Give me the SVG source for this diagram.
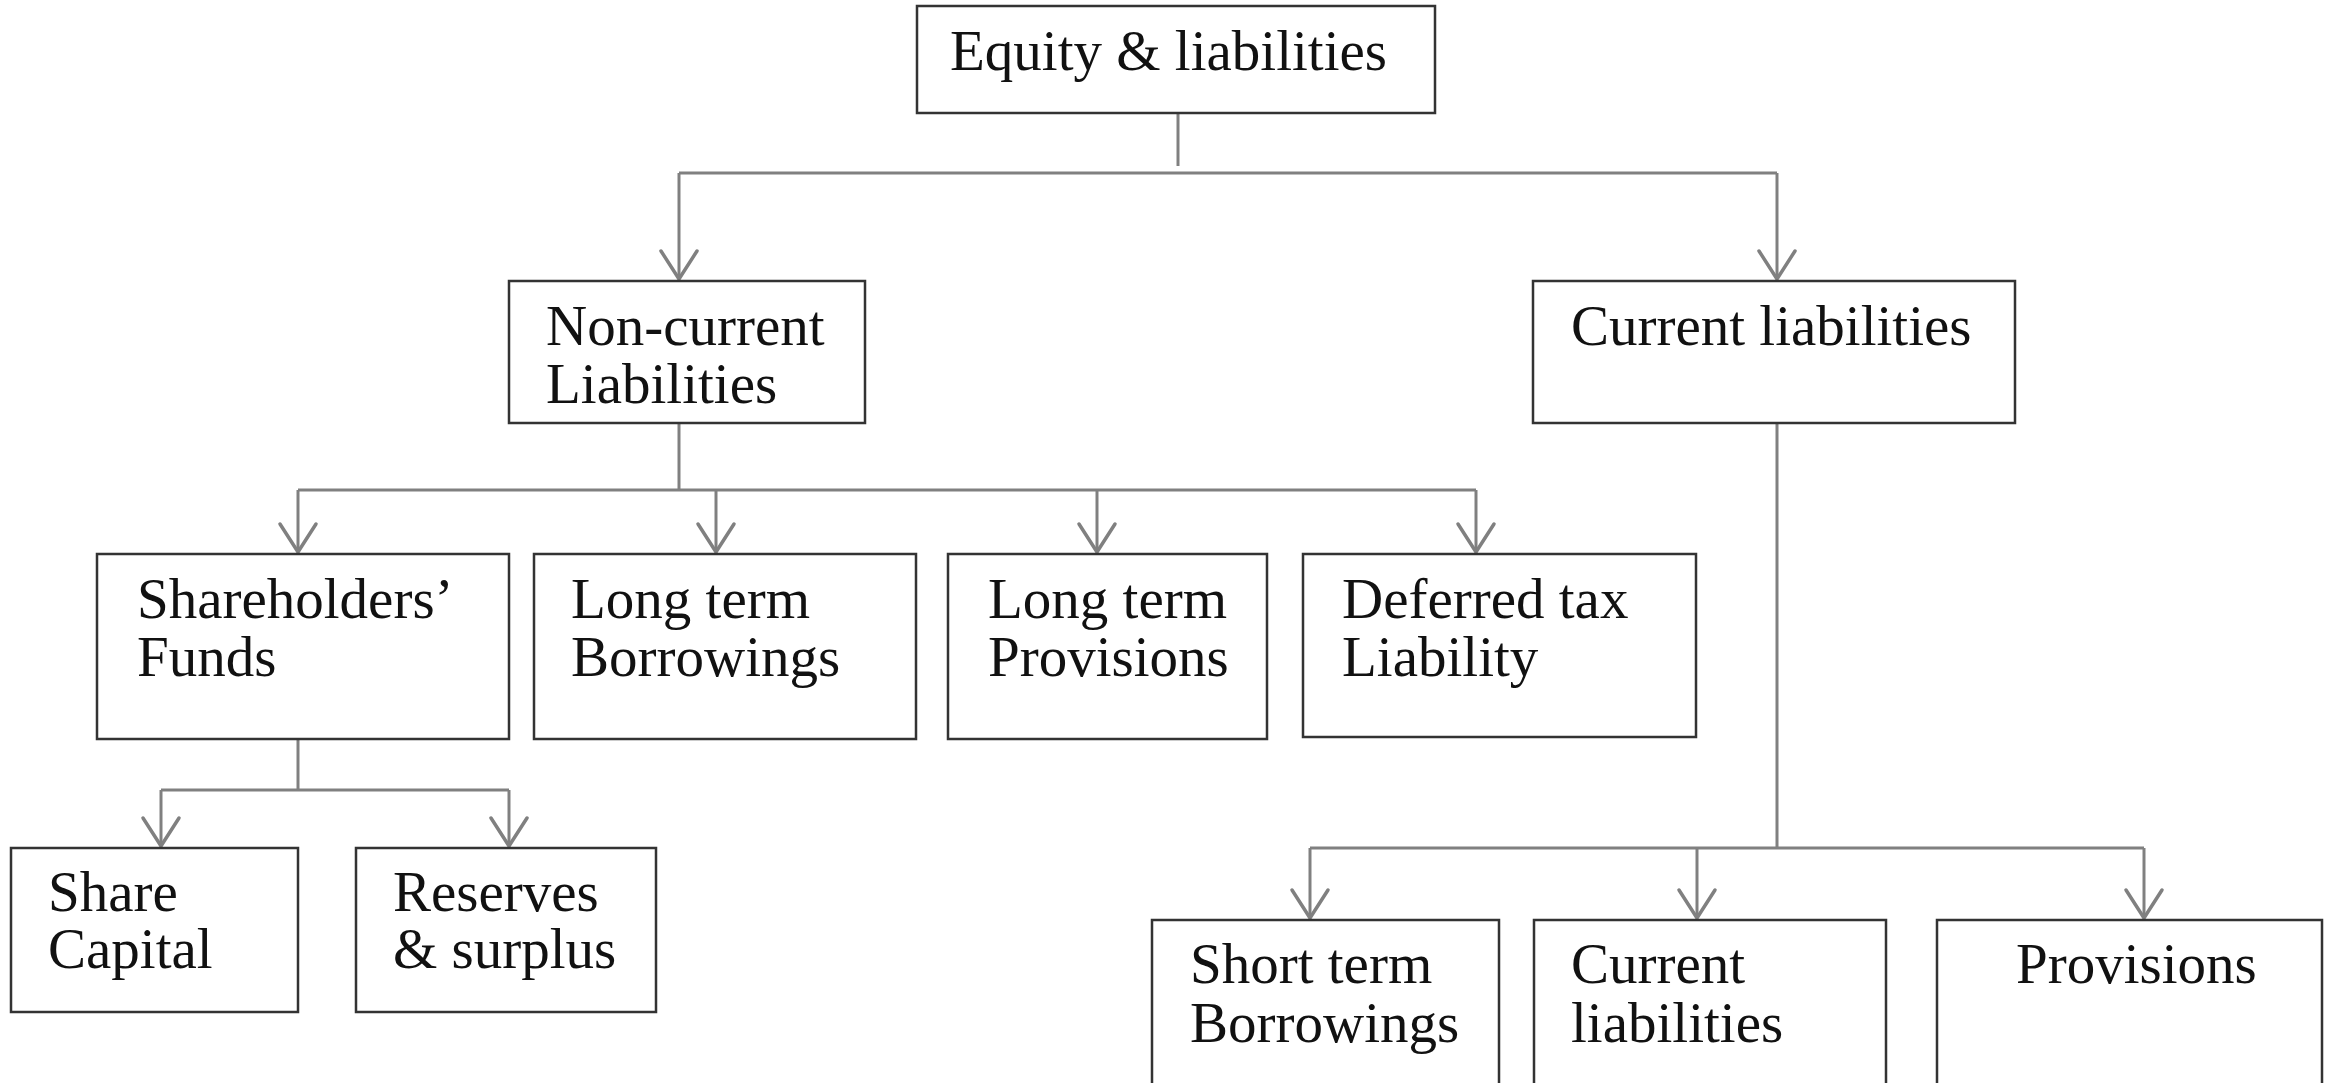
<svg xmlns="http://www.w3.org/2000/svg" width="2331" height="1083" viewBox="0 0 2331 1083">
  <style>
    .box { fill: #ffffff; stroke: #333333; stroke-width: 2.5; }
    .lbl { font-family: "Liberation Serif", "Times New Roman", serif; font-size: 57px; fill: #111111; }
    .wire { fill: none; stroke: #808080; stroke-width: 3; stroke-linejoin: round; stroke-linecap: butt; }
  </style>
  <defs>
    <marker id="vee" viewBox="-32 -22 36 44" markerWidth="36" markerHeight="44" refX="0" refY="0" orient="auto" markerUnits="userSpaceOnUse" overflow="visible">
      <path d="M-28,-18 L0,0 L-28,18" fill="none" stroke="#808080" stroke-width="3.5" stroke-linejoin="round" stroke-linecap="round"/>
    </marker>
  </defs>

  <rect width="2331" height="1083" fill="#ffffff"/>

  <!-- connectors -->
  <g id="connectors">
    <!-- root to level 1 -->
    <path class="wire" d="M1178,113 V166"/>
    <path class="wire" d="M679,173 H1777"/>
    <path class="wire" d="M679,173 V279" marker-end="url(#vee)"/>
    <path class="wire" d="M1777,173 V279" marker-end="url(#vee)"/>

    <!-- non-current liabilities to its four parts -->
    <path class="wire" d="M679,423 V490"/>
    <path class="wire" d="M298,490 H1476"/>
    <path class="wire" d="M298,490 V552" marker-end="url(#vee)"/>
    <path class="wire" d="M716,490 V552" marker-end="url(#vee)"/>
    <path class="wire" d="M1097,490 V552" marker-end="url(#vee)"/>
    <path class="wire" d="M1476,490 V552" marker-end="url(#vee)"/>

    <!-- shareholders' funds to its two parts -->
    <path class="wire" d="M298,739 V790"/>
    <path class="wire" d="M161,790 H509"/>
    <path class="wire" d="M161,790 V846" marker-end="url(#vee)"/>
    <path class="wire" d="M509,790 V846" marker-end="url(#vee)"/>

    <!-- current liabilities to its three parts -->
    <path class="wire" d="M1777,423 V848"/>
    <path class="wire" d="M1310,848 H2144"/>
    <path class="wire" d="M1310,848 V918" marker-end="url(#vee)"/>
    <path class="wire" d="M1697,848 V918" marker-end="url(#vee)"/>
    <path class="wire" d="M2144,848 V918" marker-end="url(#vee)"/>
  </g>

  <!-- level 0 -->
  <g id="equity-liabilities">
    <rect class="box" x="917" y="6" width="518" height="107"/>
    <text class="lbl" x="950" y="70">Equity &amp; liabilities</text>
  </g>

  <!-- level 1 -->
  <g id="non-current-liabilities">
    <rect class="box" x="509" y="281" width="356" height="142"/>
    <text class="lbl" x="546" y="345">Non-current</text>
    <text class="lbl" x="546" y="403">Liabilities</text>
  </g>
  <g id="current-liabilities">
    <rect class="box" x="1533" y="281" width="482" height="142"/>
    <text class="lbl" x="1571" y="345">Current liabilities</text>
  </g>

  <!-- level 2 -->
  <g id="shareholders-funds">
    <rect class="box" x="97" y="554" width="412" height="185"/>
    <text class="lbl" x="137" y="618">Shareholders’</text>
    <text class="lbl" x="137" y="676">Funds</text>
  </g>
  <g id="long-term-borrowings">
    <rect class="box" x="534" y="554" width="382" height="185"/>
    <text class="lbl" x="571" y="618">Long term</text>
    <text class="lbl" x="571" y="676">Borrowings</text>
  </g>
  <g id="long-term-provisions">
    <rect class="box" x="948" y="554" width="319" height="185"/>
    <text class="lbl" x="988" y="618">Long term</text>
    <text class="lbl" x="988" y="676">Provisions</text>
  </g>
  <g id="deferred-tax-liability">
    <rect class="box" x="1303" y="554" width="393" height="183"/>
    <text class="lbl" x="1342" y="618">Deferred tax</text>
    <text class="lbl" x="1342" y="676">Liability</text>
  </g>

  <!-- level 3 -->
  <g id="share-capital">
    <rect class="box" x="11" y="848" width="287" height="164"/>
    <text class="lbl" x="48" y="911">Share</text>
    <text class="lbl" x="48" y="968">Capital</text>
  </g>
  <g id="reserves-surplus">
    <rect class="box" x="356" y="848" width="300" height="164"/>
    <text class="lbl" x="393" y="911">Reserves</text>
    <text class="lbl" x="393" y="968">&amp; surplus</text>
  </g>
  <g id="short-term-borrowings">
    <rect class="box" x="1152" y="920" width="347" height="180"/>
    <text class="lbl" x="1190" y="983">Short term</text>
    <text class="lbl" x="1190" y="1042">Borrowings</text>
  </g>
  <g id="current-liabilities-other">
    <rect class="box" x="1534" y="920" width="352" height="180"/>
    <text class="lbl" x="1571" y="983">Current</text>
    <text class="lbl" x="1571" y="1042">liabilities</text>
  </g>
  <g id="provisions">
    <rect class="box" x="1937" y="920" width="385" height="180"/>
    <text class="lbl" x="2016" y="983">Provisions</text>
  </g>
</svg>
